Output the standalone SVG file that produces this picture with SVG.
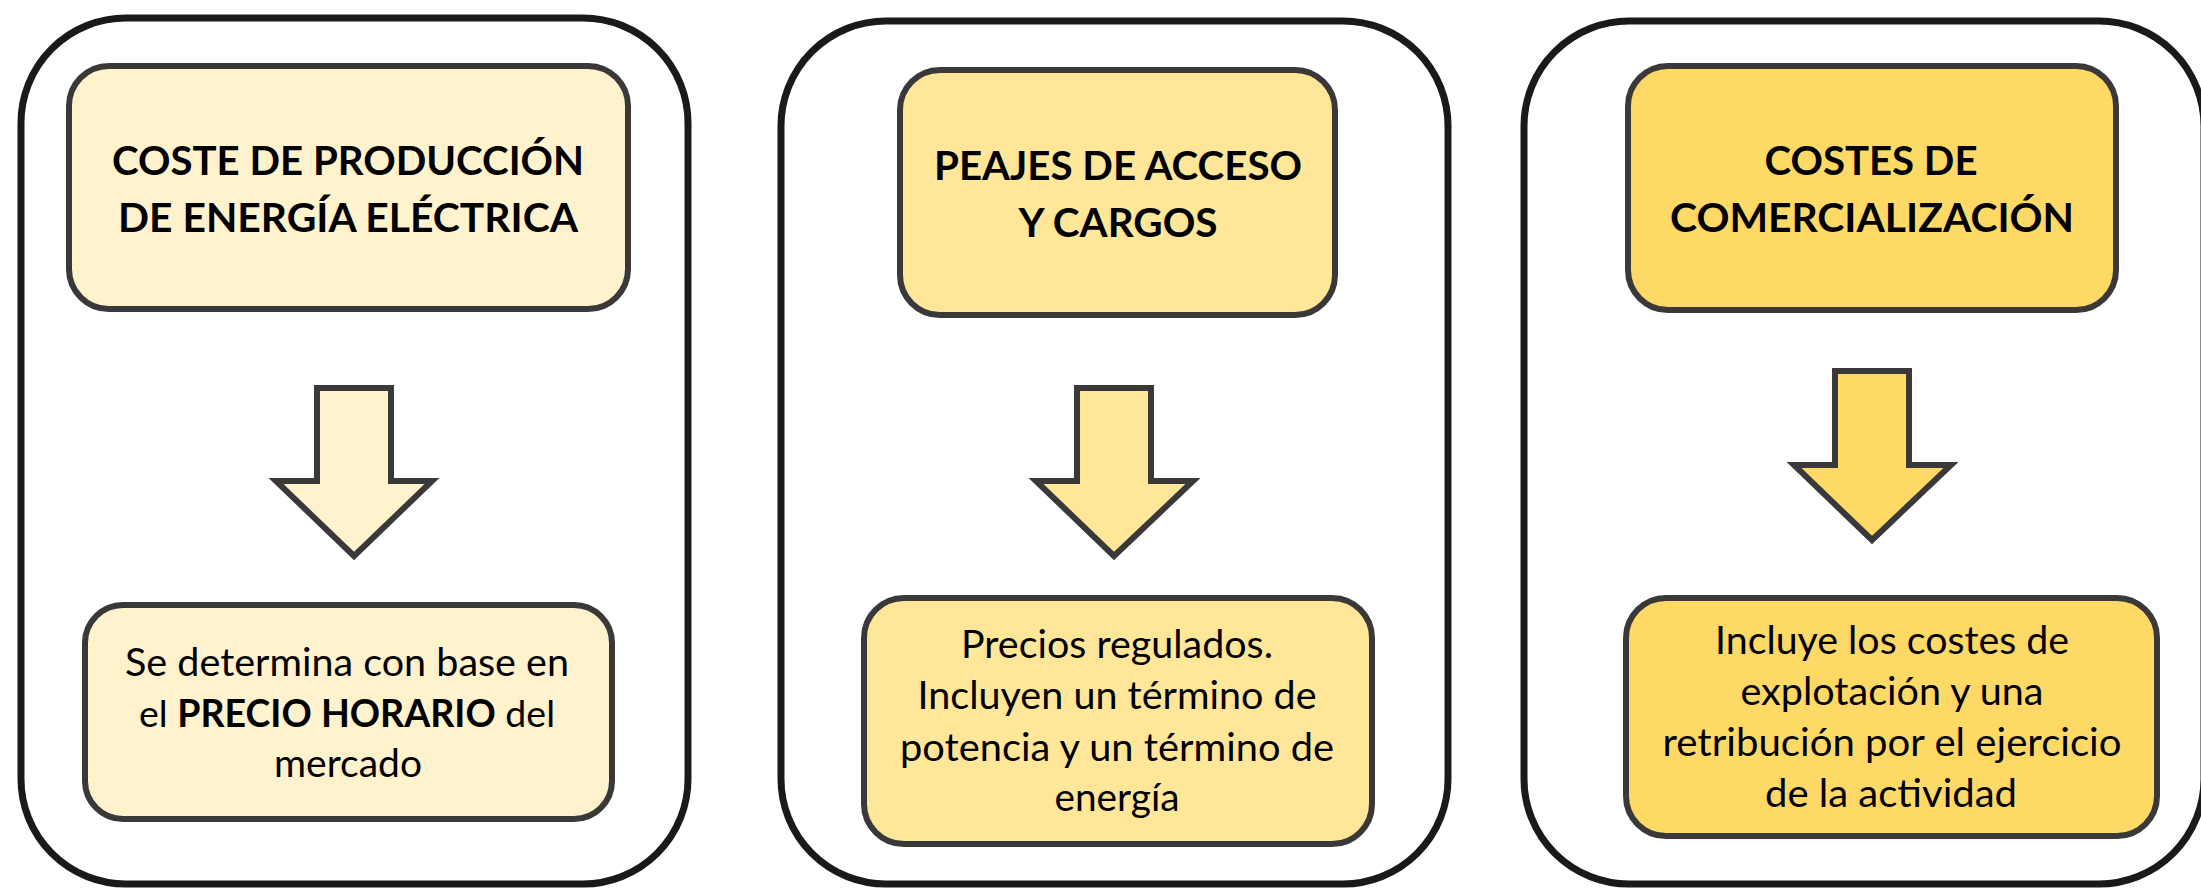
<svg xmlns="http://www.w3.org/2000/svg" width="2201" height="890" viewBox="0 0 2201 890">
<style>
.panel{fill:#ffffff;stroke:#1a1a1a;stroke-width:7}
.box{stroke:#3a3838;stroke-width:6}
.arrow{stroke:#3a3838;stroke-width:6;stroke-linejoin:miter}
.c1{fill:#FFF2CC}.c2{fill:#FFE699}.c3{fill:#FFD966}
.title{font-family:Lato,"Open Sans",sans-serif;font-weight:bold;font-size:40px;fill:#000;text-anchor:middle}
.body{font-family:Lato,"Open Sans",sans-serif;font-size:39px;fill:#000;text-anchor:middle}
.b{font-weight:bold}
</style>
<rect width="2201" height="890" fill="#ffffff"/>
<g id="panel1">
<rect class="panel" x="21" y="18" width="667" height="866" rx="105"/>
</g>
<g id="panel2">
<rect class="panel" x="781" y="21" width="667" height="863" rx="105"/>
</g>
<g id="panel3">
<rect class="panel" x="1524" y="21" width="680" height="863" rx="105"/>
</g>
<g id="top1">
<rect class="box c1" x="69" y="66" width="559" height="243" rx="40"/>
<text class="title" x="348" y="175" textLength="472" lengthAdjust="spacingAndGlyphs">COSTE DE PRODUCCIÓN</text>
<text class="title" x="348" y="232" textLength="460" lengthAdjust="spacingAndGlyphs">DE ENERGÍA ELÉCTRICA</text>
</g>
<g id="top2">
<rect class="box c2" x="900" y="70" width="435" height="245" rx="40"/>
<text class="title" x="1118" y="180" textLength="368" lengthAdjust="spacingAndGlyphs">PEAJES DE ACCESO</text>
<text class="title" x="1118" y="237" textLength="199" lengthAdjust="spacingAndGlyphs">Y CARGOS</text>
</g>
<g id="top3">
<rect class="box c3" x="1628" y="66" width="488" height="244" rx="40"/>
<text class="title" x="1871" y="175" textLength="213" lengthAdjust="spacingAndGlyphs">COSTES DE</text>
<text class="title" x="1872" y="232" textLength="404" lengthAdjust="spacingAndGlyphs">COMERCIALIZACIÓN</text>
</g>
<g id="connectors">
<polygon class="arrow c1" points="317,388 391,388 391,481 432,481 354,556 276,481 317,481"/>
<polygon class="arrow c2" points="1077,388 1151,388 1151,481 1193,481 1114,556 1036,481 1077,481"/>
<polygon class="arrow c3" points="1835,371 1909,371 1909,465 1951,465 1872,540 1794,465 1835,465"/>
</g>
<g id="bottom1">
<rect class="box c1" x="85" y="605" width="527" height="214" rx="38"/>
<text class="body" x="347" y="676" textLength="444" lengthAdjust="spacingAndGlyphs">Se determina con base en</text>
<text class="body" x="347" y="727" style="font-size:37.5px">el <tspan class="b">PRECIO HORARIO</tspan> del</text>
<text class="body" x="348" y="777" textLength="148" lengthAdjust="spacingAndGlyphs">mercado</text>
</g>
<g id="bottom2">
<rect class="box c2" x="864" y="598" width="508" height="246" rx="40"/>
<text class="body" x="1117" y="658" textLength="312" lengthAdjust="spacingAndGlyphs">Precios regulados.</text>
<text class="body" x="1117" y="709" textLength="399" lengthAdjust="spacingAndGlyphs">Incluyen un término de</text>
<text class="body" x="1117" y="761" textLength="434" lengthAdjust="spacingAndGlyphs">potencia y un término de</text>
<text class="body" x="1117" y="811" textLength="125" lengthAdjust="spacingAndGlyphs">energía</text>
</g>
<g id="bottom3">
<rect class="box c3" x="1626" y="598" width="531" height="238" rx="40"/>
<text class="body" x="1892" y="654" textLength="354" lengthAdjust="spacingAndGlyphs">Incluye los costes de</text>
<text class="body" x="1892" y="705" textLength="303" lengthAdjust="spacingAndGlyphs">explotación y una</text>
<text class="body" x="1892" y="756" textLength="459" lengthAdjust="spacingAndGlyphs">retribución por el ejercicio</text>
<text class="body" x="1891" y="807" textLength="252" lengthAdjust="spacingAndGlyphs">de la actividad</text>
</g>
</svg>
